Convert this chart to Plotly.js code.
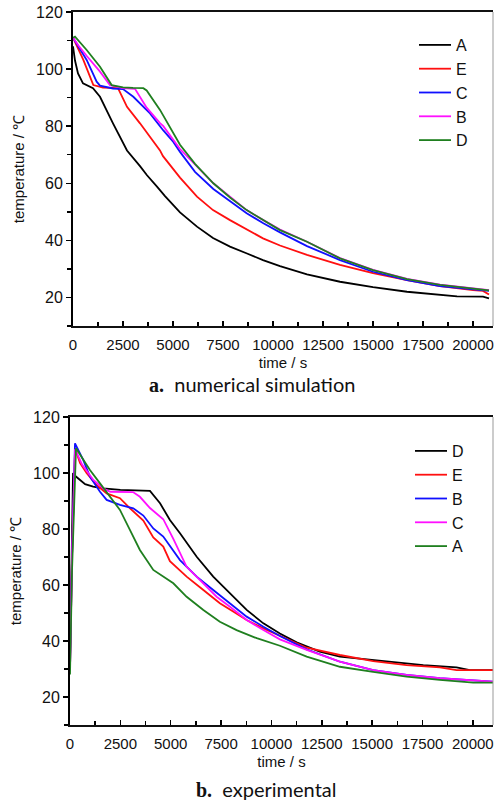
<!DOCTYPE html>
<html>
<head>
<meta charset="utf-8">
<script src="https://cdn.plot.ly/plotly-3.0.1.min.js"></script>
<style>html,body{margin:0;padding:0;background:#fff;}#chart{width:494px;height:801px;}</style>
</head>
<body>
<div id="chart"></div>
<script>
// ---------- (a) numerical simulation ----------
const simA_t = [0, 100, 250, 500, 1000, 1350, 2000, 2700, 3350, 3700, 4200, 4600, 5350, 6200, 7000, 7850, 8700, 9500, 10350, 11700, 13350, 15000, 16700, 18350, 19200, 20500, 20800];
const simA_T = [108, 103, 98.5, 95, 93.3, 90.3, 81, 71.5, 66, 62.8, 58.8, 55.5, 49.8, 44.8, 40.8, 37.8, 35.4, 33.1, 31.0, 28.1, 25.5, 23.6, 22.0, 21.0, 20.4, 20.3, 19.7];

const simE_t = [0, 250, 517, 1017, 1500, 2250, 2700, 3350, 4350, 4500, 5350, 6200, 7000, 7850, 8700, 9500, 10350, 11700, 13350, 15000, 16700, 18350, 20000, 20500, 20800];
const simE_T = [111, 107, 103.2, 94.4, 93.5, 93.3, 86.8, 81, 71.5, 69.5, 62, 55.3, 50.6, 47.1, 43.8, 40.7, 38.2, 34.9, 31.4, 28.5, 26.1, 24.0, 22.6, 22.3, 21];

const simC_t = [0, 300, 683, 1183, 1350, 2000, 2500, 3017, 3850, 4517, 5017, 5350, 6100, 7017, 7850, 8683, 9517, 10350, 11700, 13350, 15000, 16700, 18350, 20000, 20800];
const simC_T = [111, 107.5, 103.2, 95.6, 94.2, 93.2, 93, 90.3, 84.5, 78.5, 74.5, 71, 64, 58, 53.6, 49.5, 46, 42.8, 38, 33.1, 29.0, 26.1, 24.0, 22.8, 22.3];

const simB_t = [0, 300, 700, 1350, 1850, 2500, 3100, 3350, 3683, 4350, 4517, 5350, 6200, 7017, 7850, 8683, 9517, 10350, 11700, 13350, 15000, 16700, 18350, 20000, 20800];
const simB_T = [111, 108, 104.5, 99.1, 94.4, 93.3, 93.1, 90.3, 86.5, 81.1, 80, 72, 66, 60, 55.3, 50.6, 47.1, 43.8, 39.5, 33.8, 29.7, 26.5, 24.5, 23.1, 22.6];

const simD_t = [0, 100, 683, 1350, 1933, 2500, 3000, 3517, 3683, 4350, 5350, 6100, 7017, 7850, 8683, 9517, 10350, 11700, 13350, 15000, 16700, 18350, 20000, 20800];
const simD_T = [111, 111.4, 106.7, 100.8, 94.4, 93.6, 93.4, 93.3, 92.5, 85.7, 73.5, 66.8, 60, 55, 50.6, 47.1, 43.6, 39.5, 33.7, 29.6, 26.4, 24.4, 23.0, 22.5];

// ---------- (b) experimental ----------
const expD_t = [0, 60, 150, 250, 500, 750, 1150, 1650, 2500, 3000, 3970, 4470, 4960, 5460, 6290, 7110, 7940, 8770, 9600, 10420, 11250, 12400, 13400, 15050, 15880, 17540, 19190, 19850, 21000];
const expD_T = [33, 60, 100, 99, 97.5, 96, 95.1, 94.5, 94, 93.9, 93.6, 89.2, 83.2, 78.5, 70.1, 63, 57, 51.1, 46.3, 42.7, 39.5, 36.2, 34.4, 33.2, 32.6, 31.4, 30.6, 29.6, 29.6];

const expE_t = [0, 100, 250, 500, 830, 1320, 1820, 2480, 2980, 3640, 4135, 4630, 4960, 5790, 6620, 7440, 8100, 8770, 9600, 10420, 11750, 13400, 15050, 16710, 18360, 19190, 21000];
const expE_T = [30, 70, 108.8, 103.5, 99.9, 95.7, 92.7, 91, 87.4, 83, 77, 73.7, 68.5, 63, 58.2, 53.5, 50.5, 47.5, 44.5, 41.8, 37.6, 35, 32.8, 31.4, 30.6, 29.6, 29.6];

const expB_t = [0, 100, 248, 660, 990, 1490, 1820, 2480, 3140, 3640, 4135, 4630, 5460, 6290, 7110, 7940, 8770, 9600, 10420, 11750, 13400, 15050, 16710, 18360, 20020, 21000];
const expB_T = [30, 70, 110.6, 104.6, 98.7, 93.3, 90.4, 88.6, 87.4, 84.8, 80.2, 77.3, 68.9, 63, 58.2, 53.5, 48.7, 45.1, 41.8, 37, 32.6, 29.6, 27.9, 26.7, 26.1, 25.5];

const expC_t = [0, 100, 250, 600, 1160, 1650, 2000, 3130, 3470, 3970, 4630, 5130, 5790, 6620, 7280, 7940, 8770, 9600, 10420, 11750, 13400, 15050, 16710, 18360, 20020, 21000];
const expC_T = [30, 70, 108.5, 103, 97.5, 94.5, 93.3, 93.2, 91.5, 87.5, 83.5, 76.5, 66.5, 60.6, 55.8, 52.2, 47.5, 43.9, 40.6, 36.8, 32.6, 29.6, 27.9, 26.7, 26.1, 25.5];

const expA_t = [0, 100, 298, 660, 990, 1490, 1990, 2480, 2980, 3470, 4135, 4630, 5130, 5790, 6620, 7440, 8270, 9270, 10420, 11750, 13400, 15050, 16710, 18360, 20020, 21000];
const expA_T = [28, 65, 108.8, 104.6, 101.1, 96.3, 91.5, 86.8, 79.6, 72.5, 65.4, 63, 60.6, 55.8, 51.1, 46.9, 43.9, 41, 38.3, 34.4, 30.8, 29, 27.3, 26.1, 25.1, 25.1];

const xTicks = [0, 2500, 5000, 7500, 10000, 12500, 15000, 17500, 20000];
const yTicks = [20, 40, 60, 80, 100, 120];

const COL = {black:'#000000', red:'#ff1010', blue:'#1010ff', magenta:'#ff10ff', green:'#1f7f1f'};
const SANS = '"Liberation Sans", Arial, sans-serif';

function tr(x, y, name, color, xa, ya, lg) {
  return {x: x, y: y, name: name, type: 'scatter', mode: 'lines',
    line: {color: color, width: 1.8}, xaxis: xa, yaxis: ya, legend: lg};
}

const data = [
  tr(simA_t, simA_T, 'A', COL.black, 'x', 'y', 'legend'),
  tr(simE_t, simE_T, 'E', COL.red, 'x', 'y', 'legend'),
  tr(simC_t, simC_T, 'C', COL.blue, 'x', 'y', 'legend'),
  tr(simB_t, simB_T, 'B', COL.magenta, 'x', 'y', 'legend'),
  tr(simD_t, simD_T, 'D', COL.green, 'x', 'y', 'legend'),
  tr(expD_t, expD_T, 'D', COL.black, 'x2', 'y2', 'legend2'),
  tr(expE_t, expE_T, 'E', COL.red, 'x2', 'y2', 'legend2'),
  tr(expB_t, expB_T, 'B', COL.blue, 'x2', 'y2', 'legend2'),
  tr(expC_t, expC_T, 'C', COL.magenta, 'x2', 'y2', 'legend2'),
  tr(expA_t, expA_T, 'A', COL.green, 'x2', 'y2', 'legend2')
];

const W = 494, H = 801;
function px2x(p){return p / W;}
function py2y(p){return 1 - p / H;}

function xax(domain, anchor) {
  return {domain: domain, anchor: anchor, range: [0, 21000], tickvals: xTicks,
    ticktext: xTicks.map(String), tickangle: 0, ticks: 'inside', ticklen: 5, tickwidth: 1.5, tickcolor: '#000',
    minor: {dtick: 1250, tick0: 0, ticks: 'inside', ticklen: 4, tickwidth: 1.5, tickcolor: '#000'},
    showline: true, linewidth: 2, linecolor: '#111', mirror: true, showgrid: false, zeroline: false,
    automargin: false, ticklabelstandoff: 4,
    tickfont: {family: SANS, size: 15, color: '#111'},
    title: {text: 'time / s', font: {family: SANS, size: 15, color: '#111'}, standoff: 5}};
}
function yax(domain, anchor) {
  return {domain: domain, anchor: anchor, range: [10, 120], tickvals: yTicks,
    ticks: 'outside', ticklen: 5, tickwidth: 1.5, tickcolor: '#000',
    minor: {dtick: 10, tick0: 0, ticks: 'outside', ticklen: 4, tickwidth: 1.5, tickcolor: '#000'},
    showline: true, linewidth: 2, linecolor: '#000', mirror: false, showgrid: false, zeroline: false,
    automargin: false,
    tickfont: {family: SANS, size: 16, color: '#111'},
    title: {text: 'temperature / ℃', font: {family: SANS, size: 15, color: '#111'}, standoff: 8}};
}

const layout = {
  width: W, height: H, margin: {l: 0, r: 0, t: 0, b: 0},
  paper_bgcolor: '#fff', plot_bgcolor: '#fff', showlegend: true,
  xaxis: xax([px2x(73), px2x(493)], 'y'),
  yaxis: yax([py2y(326), py2y(12)], 'x'),
  xaxis2: xax([px2x(70), px2x(493)], 'y2'),
  yaxis2: yax([py2y(725), py2y(417)], 'x2'),
  legend: {x: px2x(414), y: py2y(28), xanchor: 'left', yanchor: 'top', bgcolor: 'rgba(0,0,0,0)',
    font: {family: SANS, size: 16, color: '#111'}, tracegroupgap: 0, itemwidth: 32},
  legend2: {x: px2x(410), y: py2y(434), xanchor: 'left', yanchor: 'top', bgcolor: 'rgba(0,0,0,0)',
    font: {family: SANS, size: 16, color: '#111'}, tracegroupgap: 0, itemwidth: 32},
  shapes: [
    {type: 'line', xref: 'x domain', yref: 'y domain', x0: 1, x1: 1, y0: 0, y1: 1, line: {color: '#999', width: 1}},
    {type: 'line', xref: 'x2 domain', yref: 'y2 domain', x0: 1, x1: 1, y0: 0, y1: 1, line: {color: '#999', width: 1}}
  ],
  annotations: [
    {xref: 'paper', yref: 'paper', x: px2x(252), y: py2y(384), xanchor: 'center', yanchor: 'middle', showarrow: false,
     text: '<span style="font-family:\'Liberation Serif\',serif;font-weight:bold">a.</span>  numerical simulation',
     font: {family: 'Lato, "Open Sans", sans-serif', size: 20, color: '#111'}},
    {xref: 'paper', yref: 'paper', x: px2x(266), y: py2y(789), xanchor: 'center', yanchor: 'middle', showarrow: false,
     text: '<span style="font-family:\'Liberation Serif\',serif;font-weight:bold">b.</span>  experimental',
     font: {family: 'Lato, "Open Sans", sans-serif', size: 20, color: '#111'}}
  ]
};

Plotly.newPlot('chart', data, layout, {staticPlot: true, displayModeBar: false});
</script>
</body>
</html>
